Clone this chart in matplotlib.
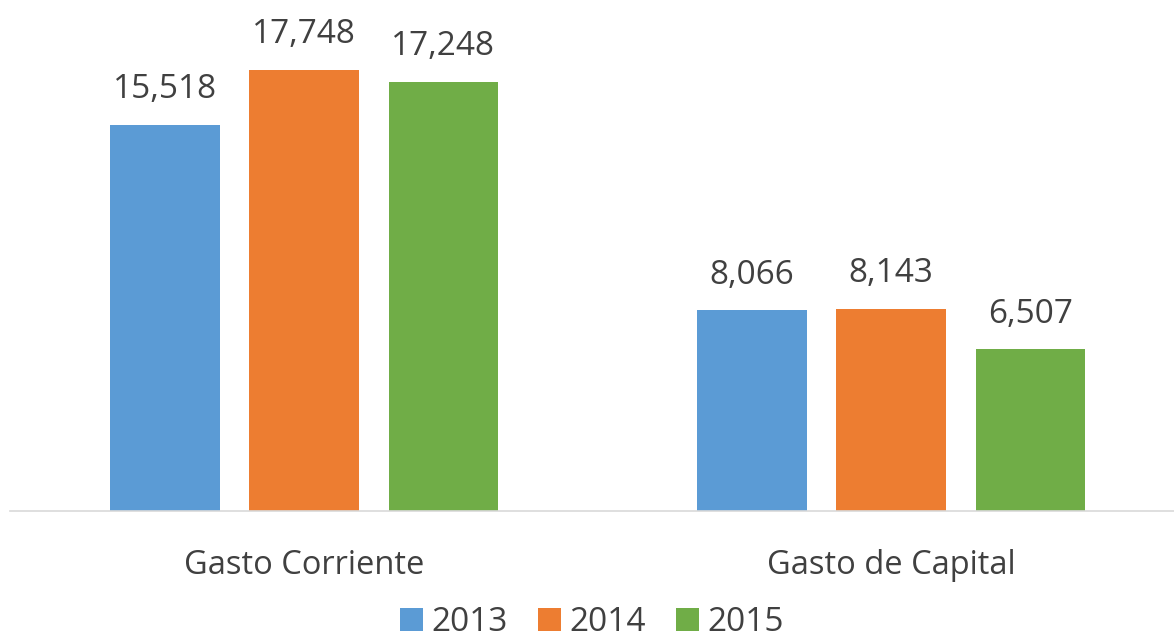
import numpy as np
import matplotlib.pyplot as plt

# Gasto por tipo y año
categories = ['Gasto Corriente', 'Gasto de Capital']
years = ['2013', '2014', '2015']
values = np.array([(15518, 8066), (17748, 8143), (17248, 6507)])
colors = ['#5B9BD5', '#ED7D31', '#70AD47']

x = np.arange(len(categories))
width = 0.186
offset = 0.237

# Plotting
plt.rcParams['font.family'] = ['Open Sans', 'DejaVu Sans']
plt.figure(figsize=(11.74, 6.4), dpi=100)
plt.axes([10 / 1174, 1 - 511 / 640, 1 - 10 / 1174, 511 / 640])

for i, year in enumerate(years):
    bars = plt.bar(x + (i - 1) * offset, values[i], width, color=colors[i], label=year)
    for bar, v in zip(bars, values[i]):
        plt.text(bar.get_x() + bar.get_width() / 2, v + 750, f'{v:,}',
                 ha='center', va='bottom', fontsize=24, color='#404040')

plt.xlim(-0.501, 1.482)
plt.ylim(0, 20550)
plt.xticks(x, categories, fontsize=23.5, color='#404040')
plt.yticks([])
plt.tick_params(axis='x', length=0, pad=27)
ax = plt.gca()
for side in ['top', 'left', 'right']:
    ax.spines[side].set_visible(False)
ax.spines['bottom'].set_color('#D9D9D9')
ax.spines['bottom'].set_linewidth(1.2)

plt.legend(loc='center', bbox_to_anchor=(0.5, -0.218), ncol=3, frameon=False,
           fontsize=24, handlelength=0.7, handleheight=0.7, handletextpad=0.25,
           columnspacing=0.9, labelcolor='#404040')

plt.savefig('out.png')
